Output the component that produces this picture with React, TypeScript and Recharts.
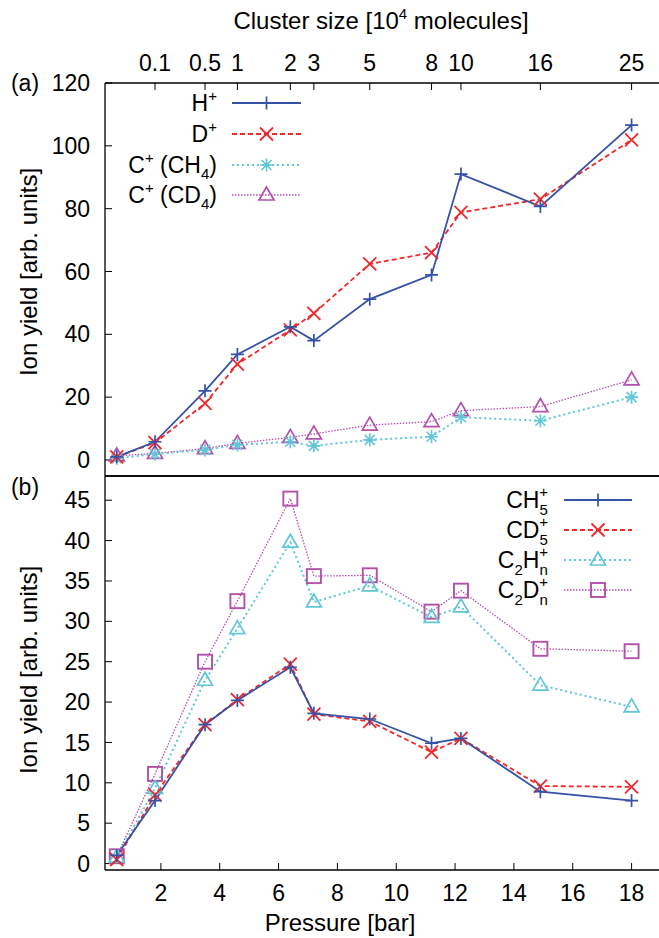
import { LineChart, Line, XAxis, YAxis, Legend } from "recharts";

// pressures of the measured points [bar]
const pressure = [0.5, 1.8, 3.5, 4.6, 6.4, 7.2, 9.1, 11.2, 12.2, 14.9, 18.0];
// cluster size (10^4 molecules) labelled on the top axis, for pressure[1..]
const clusterSize = ["0.1", "0.5", "1", "2", "3", "5", "8", "10", "16", "25"];
const pressureTicks = [2, 4, 6, 8, 10, 12, 14, 16, 18];
const topYTicks = [0, 20, 40, 60, 80, 100, 120];
const bottomYTicks = [0, 5, 10, 15, 20, 25, 30, 35, 40, 45];

// panel (a)
const hPlus = [1.0, 5.8, 22, 33.6, 42.4, 38, 51.2, 58.9, 91, 80.7, 106.6];
const dPlus = [1.0, 5.5, 18, 30.5, 41.4, 46.7, 62.4, 66, 78.8, 83, 101.9];
const cPlusCH4 = [0.5, 1.9, 3.2, 4.8, 5.8, 4.5, 6.4, 7.4, 13.6, 12.5, 20];
const cPlusCD4 = [1.3, 2.1, 3.6, 5.3, 7.2, 8.3, 11.1, 12.2, 15.7, 17, 25.5];

// panel (b)
const ch5 = [1.0, 7.8, 17.2, 20.2, 24.3, 18.6, 17.9, 14.9, 15.5, 8.9, 7.8];
const cd5 = [0.5, 8.5, 17.2, 20.3, 24.7, 18.5, 17.6, 13.8, 15.5, 9.6, 9.5];
const c2hn = [0.8, 9.3, 22.7, 29.1, 39.8, 32.4, 34.4, 30.5, 31.8, 22.1, 19.4];
const c2dn = [0.9, 11.1, 25.0, 32.5, 45.2, 35.6, 35.7, 31.2, 33.8, 26.6, 26.3];

const topData = pressure.map((p, i) => ({ p, h: hPlus[i], d: dPlus[i], ch4: cPlusCH4[i], cd4: cPlusCD4[i] }));
const bottomData = pressure.map((p, i) => ({ p, ch5: ch5[i], cd5: cd5[i], c2h: c2hn[i], c2d: c2dn[i] }));

const BLUE = "#3552a6";
const RED = "#f0282c";
const CYAN = "#60c6d8";
const MAGENTA = "#b250aa";
const FONT = "Liberation Sans, Arial, sans-serif";
const TICK_FS = 23;
const TITLE_FS = 24;
const SMALL_FS = 15;

const Marker = ({ kind, x, y, color }: any) => {
  const r = 6.5;
  if (kind === "plus")
    return <path d={`M${x - r},${y}H${x + r}M${x},${y - r}V${y + r}`} stroke={color} strokeWidth={1.7} fill="none" />;
  if (kind === "cross")
    return <path d={`M${x - r},${y - r}L${x + r},${y + r}M${x - r},${y + r}L${x + r},${y - r}`} stroke={color} strokeWidth={1.8} fill="none" />;
  if (kind === "star")
    return (
      <path
        d={`M${x - r},${y}H${x + r}M${x},${y - r}V${y + r}M${x - 5},${y - 5}L${x + 5},${y + 5}M${x - 5},${y + 5}L${x + 5},${y - 5}`}
        stroke={color}
        strokeWidth={1.6}
        fill="none"
      />
    );
  if (kind === "triangle")
    return <path d={`M${x - 7.5},${y + 5}L${x + 7.5},${y + 5}L${x},${y - 8}Z`} stroke={color} strokeWidth={1.7} fill="none" />;
  return <rect x={x - 7} y={y - 7} width={14} height={14} stroke={color} strokeWidth={1.9} fill="none" />;
};

const dot = (kind: string, color: string) => (props: any) => {
  const { cx, cy, index } = props;
  return (
    <g key={`m-${kind}-${color}-${index}`}>
      <Marker kind={kind} x={cx} y={cy} color={color} />
    </g>
  );
};

const tickStyle = { fontSize: TICK_FS, fill: "#000", fontFamily: FONT };
const axisLine = { stroke: "#000", strokeWidth: 1.3 };
const tickLine = { stroke: "#000", strokeWidth: 1 };

const Sup = ({ children }: any) => (
  <tspan dy={-10} fontSize={SMALL_FS}>
    {children}
  </tspan>
);

const legendRow = (y: number, textEnd: number, x0: number, x1: number, label: any, kind: string, color: string, dash: string, width: number) => (
  <g key={y}>
    <text x={textEnd} y={y + 8} textAnchor="end" fontSize={TICK_FS} fontFamily={FONT} fill="#000">
      {label}
    </text>
    <line x1={x0} x2={x1} y1={y} y2={y} stroke={color} strokeWidth={width} strokeDasharray={dash} />
    <Marker kind={kind} x={(x0 + x1) / 2} y={y} color={color} />
  </g>
);

const chLabel = (heavy: string) => (
  <>
    C<Sup>+</Sup>
    <tspan dy={10}> (C{heavy}</tspan>
    <tspan dy={6} fontSize={SMALL_FS}>4</tspan>
    <tspan dy={-6}>)</tspan>
  </>
);

const TopLegend = () => (
  <svg width={230} height={125} style={{ overflow: "visible" }}>
    {legendRow(15, 127, 142, 211, <>H<Sup>+</Sup></>, "plus", BLUE, "", 1.8)}
    {legendRow(46, 127, 142, 211, <>D<Sup>+</Sup></>, "cross", RED, "5 3", 1.8)}
    {legendRow(77, 127, 142, 211, chLabel("H"), "star", CYAN, "2 3", 2)}
    {legendRow(107, 127, 142, 211, chLabel("D"), "triangle", MAGENTA, "1.5 1.5", 1.3)}
  </svg>
);

// base letters with a stacked subscript and superscript
const subSup = (parts: string[], sub: string, sup: string) => (
  <>
    {parts.length > 1 ? (
      <>
        {parts[0]}
        <tspan dy={7} fontSize={SMALL_FS}>2</tspan>
        <tspan dy={-7}>{parts[1]}</tspan>
      </>
    ) : (
      parts[0]
    )}
    <tspan dy={7} fontSize={SMALL_FS}>{sub}</tspan>
    <tspan dx={-8.5} dy={-18} fontSize={SMALL_FS}>{sup}</tspan>
  </>
);

const BottomLegend = () => (
  <svg width={250} height={130} style={{ overflow: "visible" }}>
    {legendRow(20, 148, 164, 232, subSup(["CH"], "5", "+"), "plus", BLUE, "", 1.8)}
    {legendRow(50, 148, 164, 232, subSup(["CD"], "5", "+"), "cross", RED, "5 3", 1.8)}
    {legendRow(80, 148, 164, 232, subSup(["C", "H"], "n", "+"), "triangle", CYAN, "2 3", 2)}
    {legendRow(110, 148, 164, 232, subSup(["C", "D"], "n", "+"), "square", MAGENTA, "1.5 1.5", 1.3)}
  </svg>
);

const TopTitle = () => (
  <text x={381} y={29} textAnchor="middle" fontSize={TITLE_FS} fontFamily={FONT} fill="#000">
    Cluster size [10<tspan dy={-10} fontSize={SMALL_FS}>4</tspan>
    <tspan dy={10}> molecules]</tspan>
  </text>
);

const YTitle = ({ cy, tag, tagY }: any) => (
  <g>
    <text x={0} y={0} transform={`translate(37, ${cy}) rotate(-90)`} textAnchor="middle" fontSize={TITLE_FS} fontFamily={FONT} fill="#000">
      Ion yield [arb. units]
    </text>
    <text x={25} y={tagY} textAnchor="middle" fontSize={TICK_FS} fontFamily={FONT} fill="#000">
      {tag}
    </text>
  </g>
);

const XTitle = () => (
  <text x={340} y={461} textAnchor="middle" fontSize={TITLE_FS} fontFamily={FONT} fill="#000">
    Pressure [bar]
  </text>
);

const clusterLabel = (v: number) => {
  const i = pressure.indexOf(v);
  return i > 0 ? clusterSize[i - 1] : "";
};

const xDomain = [0.1, 19];

export default function App() {
  return (
    <div style={{ position: "absolute", left: 0, top: 0, width: 659, height: 938, overflow: "hidden", background: "#fff" }}>
      <div style={{ position: "absolute", left: 0, top: 0 }}>
        <LineChart width={663} height={477} data={topData} margin={{ top: 43, right: 1, left: 25, bottom: 0 }}>
          <XAxis
            xAxisId="b"
            type="number"
            dataKey="p"
            domain={xDomain}
            ticks={pressureTicks}
            tick={false}
            tickSize={-7}
            height={1}
            axisLine={axisLine}
            tickLine={tickLine}
            allowDataOverflow
          />
          <XAxis
            xAxisId="t"
            orientation="top"
            type="number"
            dataKey="p"
            domain={xDomain}
            ticks={pressure.slice(1)}
            tickFormatter={clusterLabel}
            interval={0}
            tick={tickStyle}
            tickSize={-7}
            tickMargin={19}
            height={40}
            axisLine={axisLine}
            tickLine={tickLine}
            allowDataOverflow
            label={<TopTitle />}
          />
          <YAxis
            yAxisId="l"
            type="number"
            domain={[-5.1, 120]}
            ticks={topYTicks}
            interval={0}
            tick={tickStyle}
            tickSize={-7}
            tickMargin={22}
            width={80}
            axisLine={axisLine}
            tickLine={tickLine}
            allowDataOverflow
            label={<YTitle cy={272} tag="(a)" tagY={91} />}
          />
          <YAxis
            yAxisId="r"
            orientation="right"
            type="number"
            domain={[-5.1, 120]}
            ticks={topYTicks}
            interval={0}
            tick={false}
            tickSize={-7}
            width={1}
            axisLine={axisLine}
            tickLine={tickLine}
            allowDataOverflow
          />
          <Legend
            layout="horizontal"
            verticalAlign="middle"
            align="center"
            content={() => <TopLegend />}
            wrapperStyle={{ position: "absolute", left: 90, top: 88, width: 230, height: 125 }}
          />
          <Line xAxisId="b" yAxisId="l" dataKey="cd4" stroke={MAGENTA} strokeWidth={1.3} strokeDasharray="1.5 1.5" dot={dot("triangle", MAGENTA)} isAnimationActive={false} />
          <Line xAxisId="b" yAxisId="l" dataKey="ch4" stroke={CYAN} strokeWidth={2} strokeDasharray="2 3" dot={dot("star", CYAN)} isAnimationActive={false} />
          <Line xAxisId="b" yAxisId="l" dataKey="d" stroke={RED} strokeWidth={1.8} strokeDasharray="5 3" dot={dot("cross", RED)} isAnimationActive={false} />
          <Line xAxisId="b" yAxisId="l" dataKey="h" stroke={BLUE} strokeWidth={1.8} dot={dot("plus", BLUE)} isAnimationActive={false} />
        </LineChart>
      </div>
      <div style={{ position: "absolute", left: 0, top: 470 }}>
        <LineChart width={663} height={468} data={bottomData} margin={{ top: 5, right: 1, left: 25, bottom: 8 }}>
          <XAxis
            xAxisId="t"
            orientation="top"
            type="number"
            dataKey="p"
            domain={xDomain}
            ticks={pressureTicks}
            tick={false}
            tickSize={-7}
            height={1}
            axisLine={axisLine}
            tickLine={tickLine}
            allowDataOverflow
          />
          <XAxis
            xAxisId="b"
            type="number"
            dataKey="p"
            domain={xDomain}
            ticks={pressureTicks}
            interval={0}
            tick={tickStyle}
            tickSize={-7}
            tickMargin={22}
            height={60}
            axisLine={axisLine}
            tickLine={tickLine}
            allowDataOverflow
            label={<XTitle />}
          />
          <YAxis
            yAxisId="l"
            type="number"
            domain={[-0.8, 48]}
            ticks={bottomYTicks}
            interval={0}
            tick={tickStyle}
            tickSize={-7}
            tickMargin={22}
            width={80}
            axisLine={axisLine}
            tickLine={tickLine}
            allowDataOverflow
            label={<YTitle cy={200} tag="(b)" tagY={25} />}
          />
          <YAxis
            yAxisId="r"
            orientation="right"
            type="number"
            domain={[-0.8, 48]}
            ticks={bottomYTicks}
            interval={0}
            tick={false}
            tickSize={-7}
            width={1}
            axisLine={axisLine}
            tickLine={tickLine}
            allowDataOverflow
          />
          <Legend
            layout="horizontal"
            verticalAlign="middle"
            align="center"
            content={() => <BottomLegend />}
            wrapperStyle={{ position: "absolute", left: 400, top: 10, width: 250, height: 130 }}
          />
          <Line xAxisId="b" yAxisId="l" dataKey="c2d" stroke={MAGENTA} strokeWidth={1.3} strokeDasharray="1.5 1.5" dot={dot("square", MAGENTA)} isAnimationActive={false} />
          <Line xAxisId="b" yAxisId="l" dataKey="c2h" stroke={CYAN} strokeWidth={2} strokeDasharray="2 3" dot={dot("triangle", CYAN)} isAnimationActive={false} />
          <Line xAxisId="b" yAxisId="l" dataKey="cd5" stroke={RED} strokeWidth={1.8} strokeDasharray="5 3" dot={dot("cross", RED)} isAnimationActive={false} />
          <Line xAxisId="b" yAxisId="l" dataKey="ch5" stroke={BLUE} strokeWidth={1.8} dot={dot("plus", BLUE)} isAnimationActive={false} />
        </LineChart>
      </div>
    </div>
  );
}
